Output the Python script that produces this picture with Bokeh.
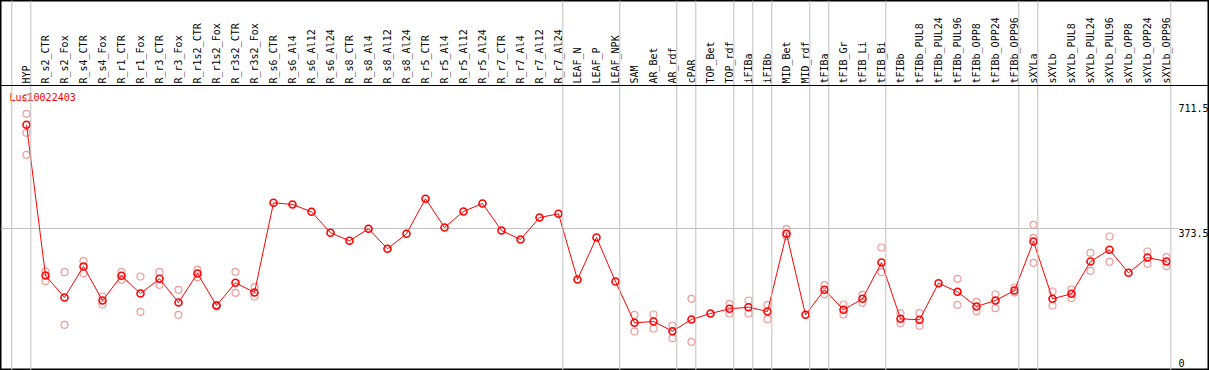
import math
from bokeh.plotting import figure
from bokeh.models import Range1d, Span
from bokeh.core.properties import value
from bokeh.embed import file_html
from bokeh.resources import INLINE

gene_name = "Lus10022403"

categories = [
    "HYP", "R_s2_CTR", "R_s2_Fox", "R_s4_CTR", "R_s4_Fox", "R_r1_CTR", "R_r1_Fox",
    "R_r3_CTR", "R_r3_Fox", "R_r1s2_CTR", "R_r1s2_Fox", "R_r3s2_CTR", "R_r3s2_Fox",
    "R_s6_CTR", "R_s6_Al4", "R_s6_Al12", "R_s6_Al24", "R_s8_CTR", "R_s8_Al4",
    "R_s8_Al12", "R_s8_Al24", "R_r5_CTR", "R_r5_Al4", "R_r5_Al12", "R_r5_Al24",
    "R_r7_CTR", "R_r7_Al4", "R_r7_Al12", "R_r7_Al24", "LEAF_N", "LEAF_P", "LEAF_NPK",
    "SAM", "AR_Bet", "AR_rdf", "cPAR", "TOP_Bet", "TOP_rdf", "iFIBa", "iFIBb",
    "MID_Bet", "MID_rdf", "tFIBa", "tFIB_Gr", "tFIB_Li", "tFIB_Bi", "tFIBb",
    "tFIBb_PUL8", "tFIBb_PUL24", "tFIBb_PUL96", "tFIBb_OPP8", "tFIBb_OPP24",
    "tFIBb_OPP96", "sXYLa", "sXYLb", "sXYLb_PUL8", "sXYLb_PUL24", "sXYLb_PUL96",
    "sXYLb_OPP8", "sXYLb_OPP24", "sXYLb_OPP96",
]

# number of consecutive categories in each sample group (separated by grey lines)
group_sizes = [1, 28, 3, 3, 1, 2, 1, 1, 2, 1, 3, 7, 1, 7]

means = [
    641.7,
    252.0, 195.1, 275.2, 187.3, 251.2, 205.4, 243.4, 182.1, 257.1, 174.4, 233.1, 208.0,
    440.0, 435.6, 416.7, 362.4, 341.7, 372.7, 321.0, 359.8,
    450.5, 376.1, 417.5, 438.2, 368.3, 345.0, 401.9, 411.5,
    241.5, 350.2, 236.4,
    129.6, 133.0, 107.9, 138.2, 153.7, 165.8, 170.0, 158.9,
    359.8, 150.3, 215.0, 163.3, 191.7, 285.6,
    140.0, 137.4, 232.0, 209.8, 171.8, 187.3, 213.2,
    339.9, 191.7, 204.8, 288.2, 318.4, 258.9, 298.5, 288.2,
]

replicates = [
    [711.5, 670.1, 621.0, 564.1],
    [262.3, 237.2], [260.5, 124.5], [288.9, 257.9], [197.6, 177.0],
    [260.5, 240.8], [249.4, 158.1], [260.5, 227.9], [215.0, 150.3],
    [266.7, 247.6], [176.2, 171.8], [261.5, 207.2], [221.7, 197.6],
    [], [], [], [], [], [], [], [], [], [], [], [], [], [], [], [],
    [], [], [],
    [150.3, 107.1], [151.1, 114.9], [122.7, 89.8], [191.7, 80.5],
    [], [177.7, 153.7], [187.3, 153.7], [175.2, 139.0],
    [371.7, 353.6], [], [226.9, 203.6], [177.0, 151.1], [202.0, 181.4], [324.4, 260.5],
    [154.5, 128.6], [154.5, 121.9], [], [243.4, 176.2], [183.9, 159.6],
    [202.8, 167.4], [220.9, 208.0],
    [383.1, 349.4, 284.8], [210.6, 174.4], [215.7, 193.3], [310.7, 264.1],
    [352.8, 287.4], [], [314.0, 282.2], [299.3, 276.0],
]

y_tick_values = [711.5, 373.5, 0]
y_tick_labels = ["711.5", "373.5", "0"]

# ---------------------------------------------------------------- layout
W, H = 1209, 370
STEP = 19.0          # px per category
X_FIRST = 26.0       # px of first category centre
Y_ZERO = 372.43      # px (from top) of value 0
PX_PER_UNIT = 0.38669

x_range = Range1d(-X_FIRST / STEP, (W - X_FIRST) / STEP)
y_range = Range1d((Y_ZERO - H) / PX_PER_UNIT, Y_ZERO / PX_PER_UNIT)
header_line_v = (Y_ZERO - 85) / PX_PER_UNIT
header_text_v = (Y_ZERO - 83) / PX_PER_UNIT

n = len(categories)
xs = list(range(n))

p = figure(width=W, height=H, x_range=x_range, y_range=y_range,
           x_axis_type=None, y_axis_type=None, toolbar_location=None,
           output_backend="svg", min_border=0)
p.grid.visible = False
p.outline_line_color = "black"
p.outline_line_width = 2
p.background_fill_color = "white"
p.border_fill_color = "white"

FONT = value("DejaVu Sans Mono")
GREY = "#c0c0c0"

# group separators
bounds = [0]
for s in group_sizes:
    bounds.append(bounds[-1] + s)
for b in bounds:
    p.add_layout(Span(location=b - 1 + 4.3 / STEP, dimension="height",
                      line_color=GREY, line_width=1))

# horizontal reference line
p.segment(x0=[x_range.start], x1=[n - 1 + 0.63], y0=[y_tick_values[1]], y1=[y_tick_values[1]],
          line_color=GREY, line_width=1)

# header separator
p.add_layout(Span(location=header_line_v, dimension="width", line_color="black", line_width=1))

# header labels
p.text(x=xs, y=[header_text_v] * n, text=categories, angle=math.pi / 2,
       text_align="left", text_baseline="middle", text_font=FONT,
       text_font_size="10px", text_color="black")

# replicate points
rx, ry = [], []
for i, reps in enumerate(replicates):
    for v in reps:
        rx.append(i)
        ry.append(v)
p.scatter(rx, ry, marker="circle", size=7, fill_color=None,
          line_color="#ee9a9a", line_width=1.2)

# mean line + points
p.line(xs, means, line_color="red", line_width=1)
p.scatter(xs, means, marker="circle", size=7, fill_color=None,
          line_color="red", line_width=1.6)

# gene name
p.text(x=[x_range.start], y=[header_line_v], text=[gene_name], x_offset=9, y_offset=12,
       text_align="left", text_baseline="middle", text_font=FONT,
       text_font_size="10px", text_color="red")

# value labels on the right
offsets = [10, 4, -10]
for v, lab, off in zip(y_tick_values, y_tick_labels, offsets):
    p.text(x=[n - 1 + 0.63], y=[v], text=[lab], y_offset=off,
           text_align="left", text_baseline="middle", text_font=FONT,
           text_font_size="10px", text_color="black")

open("out.html", "w").write(file_html(p, INLINE))
